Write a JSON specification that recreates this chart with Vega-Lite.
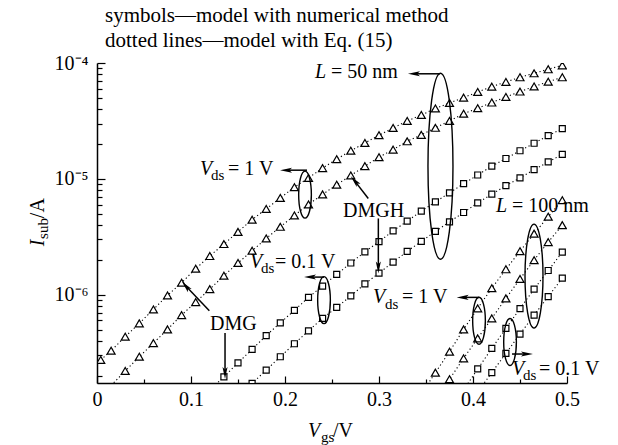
{
  "$schema": "https://vega.github.io/schema/vega-lite/v6.json",
  "width": 470,
  "height": 320,
  "autosize": {"type": "none"},
  "padding": {"left": 97, "top": 63, "right": 51, "bottom": 62},
  "background": "white",
  "config": {"view": {"stroke": null}, "font": "Liberation Serif"},
  "datasets": {
    "curves": [
      {"L": 50, "Vds": 1, "dev": "DMG", "Vgs": 0.004, "I": 2.74e-7, "num": 1},
      {"L": 50, "Vds": 1, "dev": "DMG", "Vgs": 0.015, "I": 3.29e-7, "num": 1},
      {"L": 50, "Vds": 1, "dev": "DMG", "Vgs": 0.03, "I": 4.35e-7, "num": 1},
      {"L": 50, "Vds": 1, "dev": "DMG", "Vgs": 0.045, "I": 5.67e-7, "num": 1},
      {"L": 50, "Vds": 1, "dev": "DMG", "Vgs": 0.06, "I": 7.48e-7, "num": 1},
      {"L": 50, "Vds": 1, "dev": "DMG", "Vgs": 0.075, "I": 9.88e-7, "num": 1},
      {"L": 50, "Vds": 1, "dev": "DMG", "Vgs": 0.09, "I": 1.27e-6, "num": 1},
      {"L": 50, "Vds": 1, "dev": "DMG", "Vgs": 0.105, "I": 1.68e-6, "num": 1},
      {"L": 50, "Vds": 1, "dev": "DMG", "Vgs": 0.12, "I": 2.16e-6, "num": 1},
      {"L": 50, "Vds": 1, "dev": "DMG", "Vgs": 0.135, "I": 2.74e-6, "num": 1},
      {"L": 50, "Vds": 1, "dev": "DMG", "Vgs": 0.15, "I": 3.49e-6, "num": 1},
      {"L": 50, "Vds": 1, "dev": "DMG", "Vgs": 0.165, "I": 4.45e-6, "num": 1},
      {"L": 50, "Vds": 1, "dev": "DMG", "Vgs": 0.18, "I": 5.51e-6, "num": 1},
      {"L": 50, "Vds": 1, "dev": "DMG", "Vgs": 0.195, "I": 6.84e-6, "num": 1},
      {"L": 50, "Vds": 1, "dev": "DMG", "Vgs": 0.21, "I": 8.48e-6, "num": 1},
      {"L": 50, "Vds": 1, "dev": "DMG", "Vgs": 0.225, "I": 1.02e-5, "num": 1},
      {"L": 50, "Vds": 1, "dev": "DMG", "Vgs": 0.24, "I": 1.24e-5, "num": 1},
      {"L": 50, "Vds": 1, "dev": "DMG", "Vgs": 0.255, "I": 1.48e-5, "num": 1},
      {"L": 50, "Vds": 1, "dev": "DMG", "Vgs": 0.27, "I": 1.75e-5, "num": 1},
      {"L": 50, "Vds": 1, "dev": "DMG", "Vgs": 0.285, "I": 2.04e-5, "num": 1},
      {"L": 50, "Vds": 1, "dev": "DMG", "Vgs": 0.3, "I": 2.38e-5, "num": 1},
      {"L": 50, "Vds": 1, "dev": "DMG", "Vgs": 0.315, "I": 2.75e-5, "num": 1},
      {"L": 50, "Vds": 1, "dev": "DMG", "Vgs": 0.33, "I": 3.16e-5, "num": 1},
      {"L": 50, "Vds": 1, "dev": "DMG", "Vgs": 0.345, "I": 3.56e-5, "num": 1},
      {"L": 50, "Vds": 1, "dev": "DMG", "Vgs": 0.36, "I": 4.05e-5, "num": 1},
      {"L": 50, "Vds": 1, "dev": "DMG", "Vgs": 0.375, "I": 4.52e-5, "num": 1},
      {"L": 50, "Vds": 1, "dev": "DMG", "Vgs": 0.39, "I": 5.03e-5, "num": 1},
      {"L": 50, "Vds": 1, "dev": "DMG", "Vgs": 0.405, "I": 5.62e-5, "num": 1},
      {"L": 50, "Vds": 1, "dev": "DMG", "Vgs": 0.42, "I": 6.26e-5, "num": 1},
      {"L": 50, "Vds": 1, "dev": "DMG", "Vgs": 0.435, "I": 6.86e-5, "num": 1},
      {"L": 50, "Vds": 1, "dev": "DMG", "Vgs": 0.45, "I": 7.53e-5, "num": 1},
      {"L": 50, "Vds": 1, "dev": "DMG", "Vgs": 0.465, "I": 8.15e-5, "num": 1},
      {"L": 50, "Vds": 1, "dev": "DMG", "Vgs": 0.48, "I": 8.83e-5, "num": 1},
      {"L": 50, "Vds": 1, "dev": "DMG", "Vgs": 0.495, "I": 9.55e-5, "num": 1},

      {"L": 50, "Vds": 1, "dev": "DMGH", "Vgs": 0.015, "I": 1.65e-7, "num": 0},
      {"L": 50, "Vds": 1, "dev": "DMGH", "Vgs": 0.03, "I": 2.2e-7, "num": 1},
      {"L": 50, "Vds": 1, "dev": "DMGH", "Vgs": 0.045, "I": 2.92e-7, "num": 1},
      {"L": 50, "Vds": 1, "dev": "DMGH", "Vgs": 0.06, "I": 3.83e-7, "num": 1},
      {"L": 50, "Vds": 1, "dev": "DMGH", "Vgs": 0.075, "I": 5.03e-7, "num": 1},
      {"L": 50, "Vds": 1, "dev": "DMGH", "Vgs": 0.09, "I": 6.68e-7, "num": 1},
      {"L": 50, "Vds": 1, "dev": "DMGH", "Vgs": 0.105, "I": 8.65e-7, "num": 1},
      {"L": 50, "Vds": 1, "dev": "DMGH", "Vgs": 0.12, "I": 1.12e-6, "num": 1},
      {"L": 50, "Vds": 1, "dev": "DMGH", "Vgs": 0.135, "I": 1.46e-6, "num": 1},
      {"L": 50, "Vds": 1, "dev": "DMGH", "Vgs": 0.15, "I": 1.88e-6, "num": 1},
      {"L": 50, "Vds": 1, "dev": "DMGH", "Vgs": 0.165, "I": 2.4e-6, "num": 1},
      {"L": 50, "Vds": 1, "dev": "DMGH", "Vgs": 0.18, "I": 3.06e-6, "num": 1},
      {"L": 50, "Vds": 1, "dev": "DMGH", "Vgs": 0.195, "I": 3.86e-6, "num": 1},
      {"L": 50, "Vds": 1, "dev": "DMGH", "Vgs": 0.21, "I": 4.84e-6, "num": 1},
      {"L": 50, "Vds": 1, "dev": "DMGH", "Vgs": 0.225, "I": 6.02e-6, "num": 1},
      {"L": 50, "Vds": 1, "dev": "DMGH", "Vgs": 0.24, "I": 7.35e-6, "num": 1},
      {"L": 50, "Vds": 1, "dev": "DMGH", "Vgs": 0.255, "I": 8.9e-6, "num": 1},
      {"L": 50, "Vds": 1, "dev": "DMGH", "Vgs": 0.27, "I": 1.07e-5, "num": 1},
      {"L": 50, "Vds": 1, "dev": "DMGH", "Vgs": 0.285, "I": 1.29e-5, "num": 1},
      {"L": 50, "Vds": 1, "dev": "DMGH", "Vgs": 0.3, "I": 1.54e-5, "num": 1},
      {"L": 50, "Vds": 1, "dev": "DMGH", "Vgs": 0.315, "I": 1.79e-5, "num": 1},
      {"L": 50, "Vds": 1, "dev": "DMGH", "Vgs": 0.33, "I": 2.11e-5, "num": 1},
      {"L": 50, "Vds": 1, "dev": "DMGH", "Vgs": 0.345, "I": 2.4e-5, "num": 1},
      {"L": 50, "Vds": 1, "dev": "DMGH", "Vgs": 0.36, "I": 2.76e-5, "num": 1},
      {"L": 50, "Vds": 1, "dev": "DMGH", "Vgs": 0.375, "I": 3.16e-5, "num": 1},
      {"L": 50, "Vds": 1, "dev": "DMGH", "Vgs": 0.39, "I": 3.65e-5, "num": 1},
      {"L": 50, "Vds": 1, "dev": "DMGH", "Vgs": 0.405, "I": 4.07e-5, "num": 1},
      {"L": 50, "Vds": 1, "dev": "DMGH", "Vgs": 0.42, "I": 4.56e-5, "num": 1},
      {"L": 50, "Vds": 1, "dev": "DMGH", "Vgs": 0.435, "I": 5.09e-5, "num": 1},
      {"L": 50, "Vds": 1, "dev": "DMGH", "Vgs": 0.45, "I": 5.67e-5, "num": 1},
      {"L": 50, "Vds": 1, "dev": "DMGH", "Vgs": 0.465, "I": 6.27e-5, "num": 1},
      {"L": 50, "Vds": 1, "dev": "DMGH", "Vgs": 0.48, "I": 6.89e-5, "num": 1},
      {"L": 50, "Vds": 1, "dev": "DMGH", "Vgs": 0.495, "I": 7.53e-5, "num": 1},

      {"L": 50, "Vds": 0.1, "dev": "DMG", "Vgs": 0.12, "I": 1.51e-7, "num": 0},
      {"L": 50, "Vds": 0.1, "dev": "DMG", "Vgs": 0.135, "I": 1.96e-7, "num": 1},
      {"L": 50, "Vds": 0.1, "dev": "DMG", "Vgs": 0.15, "I": 2.59e-7, "num": 1},
      {"L": 50, "Vds": 0.1, "dev": "DMG", "Vgs": 0.165, "I": 3.38e-7, "num": 1},
      {"L": 50, "Vds": 0.1, "dev": "DMG", "Vgs": 0.18, "I": 4.45e-7, "num": 1},
      {"L": 50, "Vds": 0.1, "dev": "DMG", "Vgs": 0.195, "I": 5.73e-7, "num": 1},
      {"L": 50, "Vds": 0.1, "dev": "DMG", "Vgs": 0.21, "I": 7.34e-7, "num": 1},
      {"L": 50, "Vds": 0.1, "dev": "DMG", "Vgs": 0.225, "I": 9.5e-7, "num": 1},
      {"L": 50, "Vds": 0.1, "dev": "DMG", "Vgs": 0.24, "I": 1.19e-6, "num": 1},
      {"L": 50, "Vds": 0.1, "dev": "DMG", "Vgs": 0.255, "I": 1.5e-6, "num": 1},
      {"L": 50, "Vds": 0.1, "dev": "DMG", "Vgs": 0.27, "I": 1.88e-6, "num": 1},
      {"L": 50, "Vds": 0.1, "dev": "DMG", "Vgs": 0.285, "I": 2.35e-6, "num": 1},
      {"L": 50, "Vds": 0.1, "dev": "DMG", "Vgs": 0.3, "I": 2.87e-6, "num": 1},
      {"L": 50, "Vds": 0.1, "dev": "DMG", "Vgs": 0.315, "I": 3.56e-6, "num": 1},
      {"L": 50, "Vds": 0.1, "dev": "DMG", "Vgs": 0.33, "I": 4.32e-6, "num": 1},
      {"L": 50, "Vds": 0.1, "dev": "DMG", "Vgs": 0.345, "I": 5.27e-6, "num": 1},
      {"L": 50, "Vds": 0.1, "dev": "DMG", "Vgs": 0.36, "I": 6.33e-6, "num": 1},
      {"L": 50, "Vds": 0.1, "dev": "DMG", "Vgs": 0.375, "I": 7.57e-6, "num": 1},
      {"L": 50, "Vds": 0.1, "dev": "DMG", "Vgs": 0.39, "I": 9.09e-6, "num": 1},
      {"L": 50, "Vds": 0.1, "dev": "DMG", "Vgs": 0.405, "I": 1.08e-5, "num": 1},
      {"L": 50, "Vds": 0.1, "dev": "DMG", "Vgs": 0.42, "I": 1.29e-5, "num": 1},
      {"L": 50, "Vds": 0.1, "dev": "DMG", "Vgs": 0.435, "I": 1.5e-5, "num": 1},
      {"L": 50, "Vds": 0.1, "dev": "DMG", "Vgs": 0.45, "I": 1.75e-5, "num": 1},
      {"L": 50, "Vds": 0.1, "dev": "DMG", "Vgs": 0.465, "I": 2.03e-5, "num": 1},
      {"L": 50, "Vds": 0.1, "dev": "DMG", "Vgs": 0.48, "I": 2.36e-5, "num": 1},
      {"L": 50, "Vds": 0.1, "dev": "DMG", "Vgs": 0.495, "I": 2.71e-5, "num": 1},

      {"L": 50, "Vds": 0.1, "dev": "DMGH", "Vgs": 0.15, "I": 1.31e-7, "num": 0},
      {"L": 50, "Vds": 0.1, "dev": "DMGH", "Vgs": 0.165, "I": 1.72e-7, "num": 1},
      {"L": 50, "Vds": 0.1, "dev": "DMGH", "Vgs": 0.18, "I": 2.24e-7, "num": 1},
      {"L": 50, "Vds": 0.1, "dev": "DMGH", "Vgs": 0.195, "I": 2.92e-7, "num": 1},
      {"L": 50, "Vds": 0.1, "dev": "DMGH", "Vgs": 0.21, "I": 3.78e-7, "num": 1},
      {"L": 50, "Vds": 0.1, "dev": "DMGH", "Vgs": 0.225, "I": 4.89e-7, "num": 1},
      {"L": 50, "Vds": 0.1, "dev": "DMGH", "Vgs": 0.24, "I": 6.26e-7, "num": 1},
      {"L": 50, "Vds": 0.1, "dev": "DMGH", "Vgs": 0.255, "I": 7.79e-7, "num": 1},
      {"L": 50, "Vds": 0.1, "dev": "DMGH", "Vgs": 0.27, "I": 9.78e-7, "num": 1},
      {"L": 50, "Vds": 0.1, "dev": "DMGH", "Vgs": 0.285, "I": 1.24e-6, "num": 1},
      {"L": 50, "Vds": 0.1, "dev": "DMGH", "Vgs": 0.3, "I": 1.54e-6, "num": 1},
      {"L": 50, "Vds": 0.1, "dev": "DMGH", "Vgs": 0.315, "I": 1.91e-6, "num": 1},
      {"L": 50, "Vds": 0.1, "dev": "DMGH", "Vgs": 0.33, "I": 2.37e-6, "num": 1},
      {"L": 50, "Vds": 0.1, "dev": "DMGH", "Vgs": 0.345, "I": 2.89e-6, "num": 1},
      {"L": 50, "Vds": 0.1, "dev": "DMGH", "Vgs": 0.36, "I": 3.52e-6, "num": 1},
      {"L": 50, "Vds": 0.1, "dev": "DMGH", "Vgs": 0.375, "I": 4.26e-6, "num": 1},
      {"L": 50, "Vds": 0.1, "dev": "DMGH", "Vgs": 0.39, "I": 5.13e-6, "num": 1},
      {"L": 50, "Vds": 0.1, "dev": "DMGH", "Vgs": 0.405, "I": 6.21e-6, "num": 1},
      {"L": 50, "Vds": 0.1, "dev": "DMGH", "Vgs": 0.42, "I": 7.38e-6, "num": 1},
      {"L": 50, "Vds": 0.1, "dev": "DMGH", "Vgs": 0.435, "I": 8.74e-6, "num": 1},
      {"L": 50, "Vds": 0.1, "dev": "DMGH", "Vgs": 0.45, "I": 1.02e-5, "num": 1},
      {"L": 50, "Vds": 0.1, "dev": "DMGH", "Vgs": 0.465, "I": 1.2e-5, "num": 1},
      {"L": 50, "Vds": 0.1, "dev": "DMGH", "Vgs": 0.48, "I": 1.4e-5, "num": 1},
      {"L": 50, "Vds": 0.1, "dev": "DMGH", "Vgs": 0.495, "I": 1.63e-5, "num": 1},

      {"L": 100, "Vds": 1, "dev": "DMG", "Vgs": 0.345, "I": 1.39e-7, "num": 0},
      {"L": 100, "Vds": 1, "dev": "DMG", "Vgs": 0.36, "I": 2.13e-7, "num": 1},
      {"L": 100, "Vds": 1, "dev": "DMG", "Vgs": 0.375, "I": 3.23e-7, "num": 1},
      {"L": 100, "Vds": 1, "dev": "DMG", "Vgs": 0.39, "I": 5.03e-7, "num": 1},
      {"L": 100, "Vds": 1, "dev": "DMG", "Vgs": 0.405, "I": 7.64e-7, "num": 1},
      {"L": 100, "Vds": 1, "dev": "DMG", "Vgs": 0.42, "I": 1.14e-6, "num": 1},
      {"L": 100, "Vds": 1, "dev": "DMG", "Vgs": 0.435, "I": 1.66e-6, "num": 1},
      {"L": 100, "Vds": 1, "dev": "DMG", "Vgs": 0.45, "I": 2.38e-6, "num": 1},
      {"L": 100, "Vds": 1, "dev": "DMG", "Vgs": 0.465, "I": 3.37e-6, "num": 1},
      {"L": 100, "Vds": 1, "dev": "DMG", "Vgs": 0.48, "I": 4.72e-6, "num": 1},
      {"L": 100, "Vds": 1, "dev": "DMG", "Vgs": 0.495, "I": 6.55e-6, "num": 1},

      {"L": 100, "Vds": 1, "dev": "DMGH", "Vgs": 0.36, "I": 1.24e-7, "num": 0},
      {"L": 100, "Vds": 1, "dev": "DMGH", "Vgs": 0.375, "I": 1.87e-7, "num": 1},
      {"L": 100, "Vds": 1, "dev": "DMGH", "Vgs": 0.39, "I": 2.83e-7, "num": 1},
      {"L": 100, "Vds": 1, "dev": "DMGH", "Vgs": 0.405, "I": 4.21e-7, "num": 1},
      {"L": 100, "Vds": 1, "dev": "DMGH", "Vgs": 0.42, "I": 6.26e-7, "num": 1},
      {"L": 100, "Vds": 1, "dev": "DMGH", "Vgs": 0.435, "I": 9.31e-7, "num": 1},
      {"L": 100, "Vds": 1, "dev": "DMGH", "Vgs": 0.45, "I": 1.37e-6, "num": 1},
      {"L": 100, "Vds": 1, "dev": "DMGH", "Vgs": 0.465, "I": 1.99e-6, "num": 1},
      {"L": 100, "Vds": 1, "dev": "DMGH", "Vgs": 0.48, "I": 2.85e-6, "num": 1},
      {"L": 100, "Vds": 1, "dev": "DMGH", "Vgs": 0.495, "I": 3.99e-6, "num": 1},

      {"L": 100, "Vds": 0.1, "dev": "DMG", "Vgs": 0.39, "I": 1.51e-7, "num": 0},
      {"L": 100, "Vds": 0.1, "dev": "DMG", "Vgs": 0.405, "I": 2.29e-7, "num": 1},
      {"L": 100, "Vds": 0.1, "dev": "DMG", "Vgs": 0.42, "I": 3.45e-7, "num": 1},
      {"L": 100, "Vds": 0.1, "dev": "DMG", "Vgs": 0.435, "I": 5.13e-7, "num": 1},
      {"L": 100, "Vds": 0.1, "dev": "DMG", "Vgs": 0.45, "I": 7.6e-7, "num": 1},
      {"L": 100, "Vds": 0.1, "dev": "DMG", "Vgs": 0.465, "I": 1.12e-6, "num": 1},
      {"L": 100, "Vds": 0.1, "dev": "DMG", "Vgs": 0.48, "I": 1.62e-6, "num": 1},
      {"L": 100, "Vds": 0.1, "dev": "DMG", "Vgs": 0.495, "I": 2.33e-6, "num": 1},

      {"L": 100, "Vds": 0.1, "dev": "DMGH", "Vgs": 0.405, "I": 1.45e-7, "num": 0},
      {"L": 100, "Vds": 0.1, "dev": "DMGH", "Vgs": 0.42, "I": 2.13e-7, "num": 1},
      {"L": 100, "Vds": 0.1, "dev": "DMGH", "Vgs": 0.435, "I": 3.12e-7, "num": 1},
      {"L": 100, "Vds": 0.1, "dev": "DMGH", "Vgs": 0.45, "I": 4.58e-7, "num": 1},
      {"L": 100, "Vds": 0.1, "dev": "DMGH", "Vgs": 0.465, "I": 6.68e-7, "num": 1},
      {"L": 100, "Vds": 0.1, "dev": "DMGH", "Vgs": 0.48, "I": 9.65e-7, "num": 1},
      {"L": 100, "Vds": 0.1, "dev": "DMGH", "Vgs": 0.495, "I": 1.39e-6, "num": 1}
    ]
  },
  "encoding": {
    "x": {
      "field": "Vgs",
      "type": "quantitative",
      "scale": {"domain": [0, 0.5], "nice": false, "zero": false},
      "axis": {
        "title": null,
        "grid": false,
        "values": [0, 0.05, 0.1, 0.15, 0.2, 0.25, 0.3, 0.35, 0.4, 0.45, 0.5],
        "labelExpr": "indexof([0, 0.1, 0.2, 0.3, 0.4, 0.5], datum.value) >= 0 ? (datum.value == 0 ? '0' : format(datum.value, '.1f')) : ''",
        "tickSize": {"condition": {"test": "indexof([0, 0.1, 0.2, 0.3, 0.4, 0.5], datum.value) >= 0", "value": -7}, "value": -4},
        "labelPadding": 13,
        "labelFont": "Liberation Serif",
        "labelFontSize": 20,
        "labelColor": "black",
        "labelFlush": false,
        "labelOverlap": false,
        "domainColor": "black",
        "domainWidth": 1.5,
        "tickColor": "black",
        "tickWidth": 1.2
      }
    },
    "y": {
      "field": "I",
      "type": "quantitative",
      "scale": {"type": "log", "domain": [1.733e-7, 1e-4], "nice": false},
      "axis": {
        "title": null,
        "grid": false,
        "values": [2e-7, 3e-7, 4e-7, 5e-7, 6e-7, 7e-7, 8e-7, 9e-7, 1e-6, 2e-6, 3e-6, 4e-6, 5e-6, 6e-6, 7e-6, 8e-6, 9e-6, 1e-5, 2e-5, 3e-5, 4e-5, 5e-5, 6e-5, 7e-5, 8e-5, 9e-5, 1e-4],
        "labelExpr": "datum.value == 1e-4 ? '10⁻⁴' : datum.value == 1e-5 ? '10⁻⁵' : datum.value == 1e-6 ? '10⁻⁶' : ''",
        "tickSize": {"condition": {"test": "datum.value == 1e-4 || datum.value == 1e-5 || datum.value == 1e-6", "value": -8}, "value": -5},
        "labelPadding": 17,
        "labelFont": "Liberation Serif",
        "labelFontSize": 20,
        "labelColor": "black",
        "labelFlush": false,
        "labelOverlap": false,
        "domainColor": "black",
        "domainWidth": 1.5,
        "tickColor": "black",
        "tickWidth": 1.2
      }
    }
  },
  "layer": [
    {
      "data": {"name": "curves"},
      "mark": {"type": "line", "clip": true, "color": "black", "strokeWidth": 1.1, "strokeDash": [1.2, 2.6]},
      "encoding": {"detail": [{"field": "L", "type": "nominal"}, {"field": "Vds", "type": "nominal"}, {"field": "dev", "type": "nominal"}]}
    },
    {
      "data": {"name": "curves"},
      "transform": [{"filter": "datum.num == 1 && datum.Vds == 1"}],
      "mark": {"type": "point", "shape": "triangle-up", "size": 64, "filled": true, "fill": "white", "stroke": "black", "strokeWidth": 1.2, "opacity": 1, "clip": true}
    },
    {
      "data": {"name": "curves"},
      "transform": [{"filter": "datum.num == 1 && datum.Vds == 0.1"}],
      "mark": {"type": "point", "shape": "square", "size": 36, "filled": true, "fill": "white", "stroke": "black", "strokeWidth": 1.2, "opacity": 1, "clip": true}
    },
    {
      "data": {"values": [
        {"Vgs": 0.2213, "I": 7.31e-6},
        {"Vgs": 0.2415, "I": 9.0e-7},
        {"Vgs": 0.4064, "I": 5.97e-7},
        {"Vgs": 0.4394, "I": 3.91e-7}
      ]},
      "mark": {"type": "point", "shape": "M0,-1C0.149,-1,0.27,-0.552,0.27,0C0.27,0.552,0.149,1,0,1C-0.149,1,-0.27,0.552,-0.27,0C-0.27,-0.552,-0.149,-1,0,-1Z", "size": 2209, "filled": false, "stroke": "black", "strokeWidth": 1.4, "opacity": 1}
    },
    {
      "data": {"values": [{"Vgs": 0.3654, "I": 1.287e-5}]},
      "mark": {"type": "point", "shape": "M0,-1C0.0742,-1,0.1344,-0.552,0.1344,0C0.1344,0.552,0.0742,1,0,1C-0.0742,1,-0.1344,0.552,-0.1344,0C-0.1344,-0.552,-0.0742,-1,0,-1Z", "size": 34596, "filled": false, "stroke": "black", "strokeWidth": 1.4, "opacity": 1}
    },
    {
      "data": {"values": [{"Vgs": 0.4649, "I": 1.449e-6}]},
      "mark": {"type": "point", "shape": "M0,-1C0.0956,-1,0.173,-0.552,0.173,0C0.173,0.552,0.0956,1,0,1C-0.0956,1,-0.173,0.552,-0.173,0C-0.173,-0.552,-0.0956,-1,0,-1Z", "size": 10816, "filled": false, "stroke": "black", "strokeWidth": 1.4, "opacity": 1}
    },
    {
      "data": {"values": [
        {"Vgs": 0.3649, "I": 8.07e-5, "Vgs2": 0.3372, "I2": 8.07e-5},
        {"Vgs": 0.2234, "I": 1.189e-5, "Vgs2": 0.2011, "I2": 1.189e-5},
        {"Vgs": 0.2415, "I": 1.421e-6, "Vgs2": 0.2266, "I2": 1.421e-6},
        {"Vgs": 0.1195, "I": 7.28e-7, "Vgs2": 0.0945, "I2": 1.189e-6},
        {"Vgs": 0.1362, "I": 4.675e-7, "Vgs2": 0.1362, "I2": 2.113e-7},
        {"Vgs": 0.2886, "I": 6.776e-6, "Vgs2": 0.2741, "I2": 9.61e-6},
        {"Vgs": 0.2993, "I": 4.556e-6, "Vgs2": 0.2993, "I2": 1.722e-6},
        {"Vgs": 0.4064, "I": 9.497e-7, "Vgs2": 0.389, "I2": 9.497e-7},
        {"Vgs": 0.4415, "I": 3.082e-7, "Vgs2": 0.4574, "I2": 3.082e-7}
      ]},
      "mark": {"type": "rule", "color": "black", "strokeWidth": 1.5},
      "encoding": {"x2": {"field": "Vgs2"}, "y2": {"field": "I2"}}
    },
    {
      "data": {"values": [
        {"Vgs": 0.3372, "I": 8.07e-5},
        {"Vgs": 0.2011, "I": 1.189e-5},
        {"Vgs": 0.2266, "I": 1.421e-6},
        {"Vgs": 0.389, "I": 9.497e-7}
      ]},
      "mark": {"type": "point", "shape": "M1,0L-1,-0.42L-0.55,0L-1,0.42Z", "size": 144, "angle": 180, "filled": true, "color": "black", "opacity": 1}
    },
    {
      "data": {"values": [
        {"Vgs": 0.1362, "I": 2.113e-7},
        {"Vgs": 0.2993, "I": 1.722e-6}
      ]},
      "mark": {"type": "point", "shape": "M1,0L-1,-0.42L-0.55,0L-1,0.42Z", "size": 144, "angle": 90, "filled": true, "color": "black", "opacity": 1}
    },
    {
      "data": {"values": [{"Vgs": 0.4574, "I": 3.082e-7}]},
      "mark": {"type": "point", "shape": "M1,0L-1,-0.42L-0.55,0L-1,0.42Z", "size": 144, "angle": 0, "filled": true, "color": "black", "opacity": 1}
    },
    {
      "data": {"values": [
        {"Vgs": 0.0945, "I": 1.189e-6},
        {"Vgs": 0.2741, "I": 9.61e-6}
      ]},
      "mark": {"type": "point", "shape": "M1,0L-1,-0.42L-0.55,0L-1,0.42Z", "size": 144, "angle": 229, "filled": true, "color": "black", "opacity": 1}
    },
    {
      "data": {"values": [
        {"Vgs": 0.0085, "I": 2.244e-4, "t": "symbols—model with numerical method"},
        {"Vgs": 0.0085, "I": 1.365e-4, "t": "dotted lines—model with Eq. (15)"}
      ]},
      "mark": {"type": "text", "align": "left", "baseline": "alphabetic", "font": "Liberation Serif", "fontSize": 21, "color": "black"},
      "encoding": {"text": {"field": "t"}}
    },
    {
      "data": {"values": [
        {"Vgs": 0.2489, "I": 7.38e-5, "t": "= 50 nm"},
        {"Vgs": 0.1394, "I": 1.076e-5, "t": "= 1 V"},
        {"Vgs": 0.1894, "I": 1.699e-6, "t": "= 0.1 V"},
        {"Vgs": 0.1202, "I": 4.962e-7, "t": "DMG"},
        {"Vgs": 0.2617, "I": 4.703e-6, "t": "DMGH"},
        {"Vgs": 0.4415, "I": 5.163e-6, "t": "= 100 nm"},
        {"Vgs": 0.3245, "I": 8.531e-7, "t": "= 1 V"},
        {"Vgs": 0.4702, "I": 2.031e-7, "t": "= 0.1 V"},
        {"Vgs": 0.2511, "I": 5.933e-8, "t": "/V"}
      ]},
      "mark": {"type": "text", "align": "left", "baseline": "alphabetic", "font": "Liberation Serif", "fontSize": 20, "color": "black"},
      "encoding": {"text": {"field": "t"}}
    },
    {
      "data": {"values": [
        {"Vgs": 0.2319, "I": 7.38e-5, "t": "L"},
        {"Vgs": 0.1096, "I": 1.076e-5, "t": "V"},
        {"Vgs": 0.1628, "I": 1.699e-6, "t": "V"},
        {"Vgs": 0.4245, "I": 5.163e-6, "t": "L"},
        {"Vgs": 0.2936, "I": 8.531e-7, "t": "V"},
        {"Vgs": 0.4415, "I": 2.031e-7, "t": "V"},
        {"Vgs": 0.2245, "I": 5.933e-8, "t": "V"}
      ]},
      "mark": {"type": "text", "align": "left", "baseline": "alphabetic", "font": "Liberation Serif", "fontStyle": "italic", "fontSize": 20, "color": "black"},
      "encoding": {"text": {"field": "t"}}
    },
    {
      "data": {"values": [
        {"Vgs": 0.1213, "I": 9.745e-6, "t": "ds"},
        {"Vgs": 0.1745, "I": 1.539e-6, "t": "ds"},
        {"Vgs": 0.3064, "I": 7.527e-7, "t": "ds"},
        {"Vgs": 0.4532, "I": 1.839e-7, "t": "ds"},
        {"Vgs": 0.2383, "I": 5.373e-8, "t": "gs"}
      ]},
      "mark": {"type": "text", "align": "left", "baseline": "alphabetic", "font": "Liberation Serif", "fontSize": 15, "color": "black"},
      "encoding": {"text": {"field": "t"}}
    },
    {
      "data": {"values": [{"Vgs": -0.0564, "I": 2.629e-6, "t": "I"}]},
      "mark": {"type": "text", "align": "left", "baseline": "alphabetic", "angle": 270, "font": "Liberation Serif", "fontStyle": "italic", "fontSize": 20, "color": "black"},
      "encoding": {"text": {"field": "t"}}
    },
    {
      "data": {"values": [{"Vgs": -0.0521, "I": 3.033e-6, "t": "sub"}]},
      "mark": {"type": "text", "align": "left", "baseline": "alphabetic", "angle": 270, "font": "Liberation Serif", "fontSize": 15, "color": "black"},
      "encoding": {"text": {"field": "t"}}
    },
    {
      "data": {"values": [{"Vgs": -0.0564, "I": 4.584e-6, "t": "/A"}]},
      "mark": {"type": "text", "align": "left", "baseline": "alphabetic", "angle": 270, "font": "Liberation Serif", "fontSize": 20, "color": "black"},
      "encoding": {"text": {"field": "t"}}
    }
  ]
}
